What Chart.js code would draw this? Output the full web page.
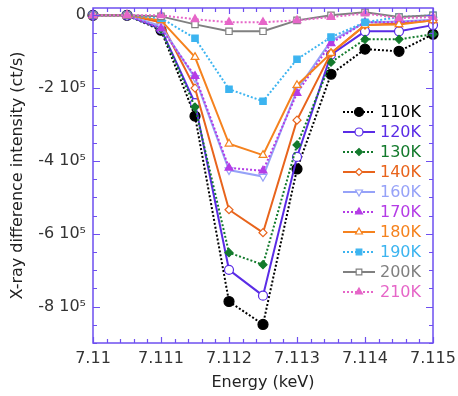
<!DOCTYPE html>
<html>
<head>
<meta charset="utf-8">
<script src="https://cdn.jsdelivr.net/npm/chart.js@4"></script>
<style>
  html, body { margin: 0; padding: 0; background: #fff; }
  #wrap { width: 458px; height: 396px; }
</style>
</head>
<body>
<div id="wrap"><canvas id="myChart" width="458" height="396"></canvas></div>
<script>
const energies = [7.11, 7.1105, 7.111, 7.1115, 7.112, 7.1125, 7.113, 7.1135, 7.114, 7.1145, 7.115];
const temps = ["110K", "120K", "130K", "140K", "160K", "170K", "180K", "190K", "200K", "210K"];

const k110 = [0, 0, -41000, -277000, -786000, -849000, -422000, -162000, -93000, -99000, -52000];
const k120 = [0, 0, -38000, -241000, -699000, -770000, -389000, -108000, -44000, -44000, -27000];
const k130 = [0, 0, -38000, -252000, -652000, -685000, -356000, -129000, -66000, -66000, -52000];
const k140 = [0, 0, -19000, -200000, -534000, -597000, -288000, -104000, -27000, -22000, -14000];
const k160 = [0, 0, -30000, -172000, -425000, -443000, -205000, -70000, -20000, -17000, -12000];
const k170 = [0, 0, -36000, -167000, -419000, -427000, -214000, -77000, -19000, -19000, -14000];
const k180 = [0, 0, -14000, -115000, -353000, -384000, -192000, -104000, -27000, -25000, -14000];
const k190 = [0, 0, -8000, -63000, -203000, -236000, -121000, -60000, -19000, -5000, 0];
const k200 = [0, 0, -3000, -25000, -44000, -44000, -14000, 0, 8000, -5000, 0];
const k210 = [0, 0, 0, -11000, -19000, -19000, -14000, -5000, 5000, -8000, -5000];

const xTicks = [7.11, 7.111, 7.112, 7.113, 7.114, 7.115];
const xTickLabels = ["7.11", "7.111", "7.112", "7.113", "7.114", "7.115"];
const yTicks = [0, -200000, -400000, -600000, -800000];
const yTickLabels = ["0", "-2 10\u2075", "-4 10\u2075", "-6 10\u2075", "-8 10\u2075"];

const allData = [k110, k120, k130, k140, k160, k170, k180, k190, k200, k210];
const colors = ["#000000", "#5a2ce6", "#137a2c", "#e8641c", "#96a2f8", "#b43ce6", "#f5821e", "#3cb4f0", "#808080", "#e666c8"];
const dotted = [true, false, true, false, false, true, false, true, false, true];
const markers = ["circle", "circle", "rectRot", "rectRot", "triangle", "triangle", "triangle", "rect", "rect", "triangle"];
const filled = [true, false, true, false, false, true, false, true, false, true];
const rotations = [0, 0, 0, 0, 180, 0, 0, 0, 0, 0];
const radii = [5, 4.5, 4, 4, 4.5, 4.5, 4.5, 4.5, 4.5, 4.5];

const axisColor = "#6e4ff0";
const fontFamily = "DejaVu Sans";

const datasets = temps.map((t, i) => ({
    label: t,
    data: energies.map((e, j) => ({ x: e, y: allData[i][j] })),
    borderColor: colors[i],
    backgroundColor: filled[i] ? colors[i] : "#ffffff",
    pointBorderColor: colors[i],
    pointBackgroundColor: filled[i] ? colors[i] : "#ffffff",
    borderWidth: 2,
    borderDash: dotted[i] ? [2, 2] : [],
    pointStyle: markers[i],
    pointRotation: rotations[i],
    pointRadius: radii[i],
    pointBorderWidth: 1.2,
    tension: 0,
    order: -i,
    clip: false,
}));

// inward ticks on all four sides
const frameTicks = {
    id: "frameTicks",
    afterDatasetsDraw(chart) {
        const { ctx, chartArea: a, scales } = chart;
        ctx.save();
        ctx.strokeStyle = axisColor;
        ctx.lineWidth = 1.2;
        ctx.setLineDash([]);
        for (let k = 0; k <= 25; k++) {
            const v = 7.11 + k * 0.0002;
            const px = Math.round(scales.x.getPixelForValue(v)) + 0.5;
            const len = k % 5 === 0 ? 6 : 4;
            ctx.beginPath();
            ctx.moveTo(px, a.bottom); ctx.lineTo(px, a.bottom - len);
            ctx.moveTo(px, a.top); ctx.lineTo(px, a.top + len);
            ctx.stroke();
        }
        for (let k = 0; k <= 18; k++) {
            const v = -k * 50000;
            const py = Math.round(scales.y.getPixelForValue(v)) + 0.5;
            const len = k % 4 === 0 ? 7 : 4;
            ctx.beginPath();
            ctx.moveTo(a.left, py); ctx.lineTo(a.left + len, py);
            ctx.moveTo(a.right, py); ctx.lineTo(a.right - len, py);
            ctx.stroke();
        }
        ctx.lineWidth = 1.5;
        ctx.strokeRect(a.left, a.top, a.right - a.left, a.bottom - a.top);
        ctx.restore();
    },
};

// legend inside the plot
const insideLegend = {
    id: "insideLegend",
    afterDraw(chart) {
        const { ctx } = chart;
        const x0 = 343, x1 = 375, tx = 380;
        let y = 112;
        ctx.save();
        ctx.font = "16px " + fontFamily;
        ctx.textBaseline = "middle";
        chart.data.datasets.forEach((ds) => {
            ctx.strokeStyle = ds.borderColor;
            ctx.lineWidth = 2;
            ctx.setLineDash(ds.borderDash);
            ctx.beginPath();
            ctx.moveTo(x0, y); ctx.lineTo(x1, y);
            ctx.stroke();
            ctx.setLineDash([]);
            ctx.fillStyle = ds.pointBackgroundColor;
            ctx.lineWidth = ds.pointBorderWidth;
            Chart.helpers.drawPoint(ctx, {
                pointStyle: ds.pointStyle,
                rotation: ds.pointRotation,
                radius: ds.pointRadius - 0.5,
                borderWidth: ds.pointBorderWidth,
            }, (x0 + x1) / 2, y);
            ctx.fillStyle = ds.borderColor;
            ctx.fillText(ds.label, tx, y + 1);
            y += 20;
        });
        ctx.restore();
    },
};

const config = {
    type: "line",
    data: { datasets: datasets },
    options: {
        responsive: false,
        animation: false,
        layout: { padding: { top: 8, right: 25, left: 0, bottom: 0 } },
        plugins: { legend: { display: false }, tooltip: { enabled: false } },
        scales: {
            x: {
                type: "linear",
                min: 7.11,
                max: 7.115,
                afterBuildTicks: (s) => { s.ticks = xTicks.map((v) => ({ value: v })); },
                afterFit: (s) => { s.height = 53; s.paddingLeft = 0; s.paddingRight = 0; },
                grid: { display: false, drawTicks: false },
                border: { display: false },
                ticks: {
                    padding: 6,
                    color: "#333333",
                    font: { family: fontFamily, size: 16 },
                    maxRotation: 0,
                    callback: (v, i) => xTickLabels[i],
                },
                title: {
                    display: true,
                    text: "Energy (keV)",
                    color: "#222222",
                    font: { family: fontFamily, size: 16 },
                    padding: { top: 6, bottom: 4 },
                },
            },
            y: {
                type: "linear",
                min: -900000,
                max: 20000,
                afterBuildTicks: (s) => { s.ticks = yTicks.map((v) => ({ value: v })); },
                afterFit: (s) => { s.width = 93; s.paddingTop = 0; s.paddingBottom = 0; },
                grid: { display: false, drawTicks: false },
                border: { display: false },
                ticks: {
                    padding: 7,
                    color: "#333333",
                    font: { family: fontFamily, size: 16 },
                    callback: (v, i) => yTickLabels[i],
                },
                title: {
                    display: true,
                    text: "X-ray difference intensity (ct/s)",
                    color: "#222222",
                    font: { family: fontFamily, size: 16 },
                    padding: { top: 8, bottom: 2 },
                },
            },
        },
    },
    plugins: [frameTicks, insideLegend],
};

const myChart = new Chart(document.getElementById("myChart"), config);
</script>
</body>
</html>
